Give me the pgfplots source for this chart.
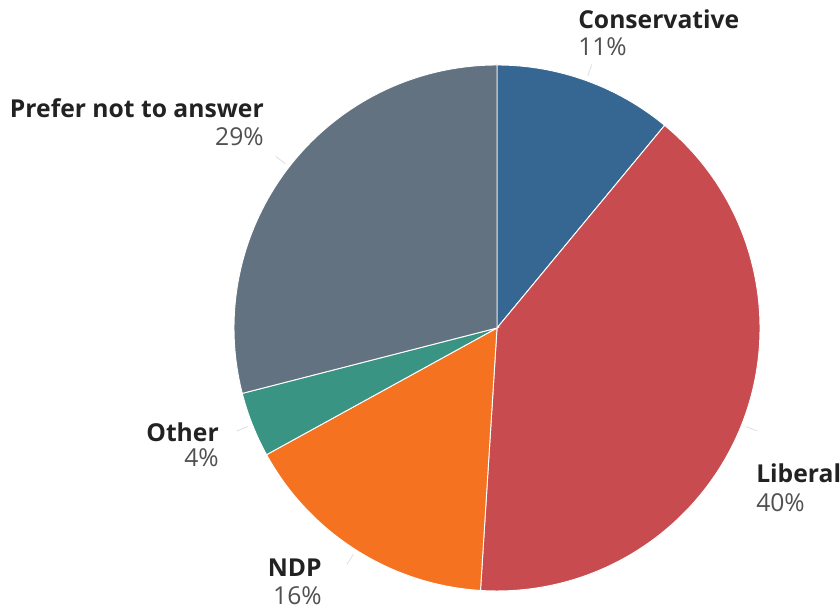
\documentclass[border=0pt]{standalone}
\usepackage{pgfplots}
\pgfplotsset{compat=1.18}
\usepackage{pgfplotstable}
\usepackage{fontspec}
\setmainfont{Open Sans}
\definecolor{cCon}{HTML}{366792}
\definecolor{cLib}{HTML}{C74B4F}
\definecolor{cNDP}{HTML}{F47220}
\definecolor{cOth}{HTML}{399483}
\definecolor{cPre}{HTML}{637280}
\definecolor{cName}{HTML}{222222}
\definecolor{cPct}{HTML}{505050}
% start (%), share (%)
\pgfplotstableread{
name start share
Conservative 0 11
Liberal 11 40
NDP 51 16
Other 67 4
Prefer 71 29
}\piedata
\tikzset{
  name font/.style={font=\fontsize{18.5}{22}\selectfont\bfseries, text=cName, inner sep=0pt},
  pct font/.style={font=\fontsize{18.5}{22}\selectfont, text=cPct, inner sep=0pt},
}
\newcommand{\slice}[3]{%
  \fill[#3, draw=white, line width=0.7pt] (axis cs:497,281) -- ++({90-3.6*#1}:197.25pt)
    arc[start angle={90-3.6*#1}, end angle={90-3.6*(#1+#2)}, radius=197.25pt] -- cycle;
  \draw[black!13, line width=0.6pt] (axis cs:497,281) ++({90-3.6*(#1+#2/2)}:201pt) -- ++({90-3.6*(#1+#2/2)}:9pt);
}
\begin{document}
\begin{tikzpicture}
\begin{axis}[
  name=ax,
  scale only axis, width=630pt, height=456.75pt,
  xmin=0, xmax=840, ymin=0, ymax=609,
  hide axis, clip=false,
]
\slice{0}{11}{cCon}
\slice{11}{40}{cLib}
\slice{51}{16}{cNDP}
\slice{67}{4}{cOth}
\slice{71}{29}{cPre}
\node[name font, anchor=base west] at (axis cs:578,580) {Conservative};
\node[pct font, anchor=base west] at (axis cs:578,553) {11\%};
\node[name font, anchor=base west] at (axis cs:756,126) {Liberal};
\node[pct font, anchor=base west] at (axis cs:756,97) {40\%};
\node[name font, anchor=base east] at (axis cs:322,32) {NDP};
\node[pct font, anchor=base east] at (axis cs:322,4) {16\%};
\node[name font, anchor=base east] at (axis cs:219,167) {Other};
\node[pct font, anchor=base east] at (axis cs:219,142) {4\%};
\node[name font, anchor=base east] at (axis cs:264,491) {Prefer not to answer};
\node[pct font, anchor=base east] at (axis cs:264,463) {29\%};
\end{axis}
\pgfresetboundingbox
\path[use as bounding box] (ax.south west) rectangle (ax.north east);
\end{tikzpicture}
\end{document}
